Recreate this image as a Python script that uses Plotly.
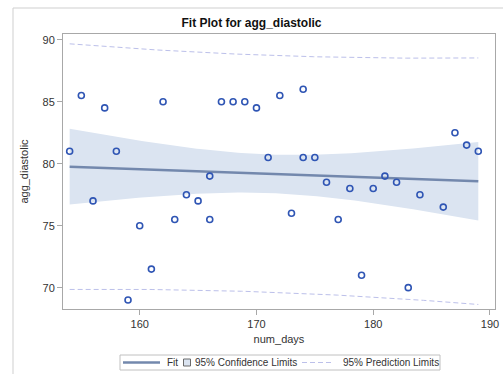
import numpy as np
import plotly.graph_objects as go

# Observations: number of days vs. aggregated diastolic pressure
num_days = [154, 155, 156, 157, 158, 159, 160, 161, 162, 163, 164, 165, 166, 166,
            167, 168, 169, 170, 171, 172, 173, 174, 174, 175, 176, 177, 178, 179,
            180, 181, 182, 183, 184, 186, 187, 188, 189]
agg_diastolic = [81, 85.5, 77, 84.5, 81, 69, 75, 71.5, 85, 75.5, 77.5, 77, 75.5, 79,
                 85, 85, 85, 84.5, 80.5, 85.5, 76, 86, 80.5, 80.5, 78.5, 75.5, 78, 71,
                 78, 79, 78.5, 70, 77.5, 76.5, 82.5, 81.5, 81]

x_ticks = [160, 170, 180, 190]
y_ticks = [70, 75, 80, 85, 90]
legend_labels = ["Fit", "95% Confidence Limits", "95% Prediction Limits"]

# Ordinary least squares fit with 95% confidence and prediction limits
x = np.array(num_days, dtype=float)
y = np.array(agg_diastolic, dtype=float)
n = len(x)
slope, intercept = np.polyfit(x, y, 1)
resid = y - (intercept + slope * x)
s = np.sqrt(np.sum(resid ** 2) / (n - 2))
t_crit = 2.0301  # t quantile, 0.975, 35 df
sxx = np.sum((x - x.mean()) ** 2)

grid = np.linspace(x.min(), x.max(), 120)
fit = intercept + slope * grid
se_mean = s * np.sqrt(1 / n + (grid - x.mean()) ** 2 / sxx)
se_pred = s * np.sqrt(1 + 1 / n + (grid - x.mean()) ** 2 / sxx)
cl_lo, cl_hi = fit - t_crit * se_mean, fit + t_crit * se_mean
pl_lo, pl_hi = fit - t_crit * se_pred, fit + t_crit * se_pred

BAND = "#dbe4f1"
FIT = "#7388ad"
PRED = "#bcc0ea"
MARK = "#2f55b4"
AXIS = "#a8a8a8"
FONT = "Liberation Sans, Arial, sans-serif"
DASH = "5px,3px"

W, H = 503, 374
ML, MR, MT, MB = 63, 8, 34, 65
PW, PH = W - ML - MR, H - MT - MB


def px(xp):
    """Horizontal pixel position -> paper coordinate."""
    return (xp - ML) / PW


def py(yp):
    """Vertical pixel position -> paper coordinate."""
    return (H - MB - yp) / PH


fig = go.Figure()

# confidence band
fig.add_trace(go.Scatter(x=grid, y=cl_lo, mode="lines", line=dict(width=0),
                         showlegend=False, hoverinfo="skip"))
fig.add_trace(go.Scatter(x=grid, y=cl_hi, mode="lines", line=dict(width=0),
                         fill="tonexty", fillcolor=BAND, showlegend=False,
                         hoverinfo="skip"))

# prediction limits
for band in (pl_hi, pl_lo):
    fig.add_trace(go.Scatter(x=grid, y=band, mode="lines",
                             line=dict(color=PRED, width=1, dash=DASH),
                             showlegend=False, hoverinfo="skip"))

# fitted line
fig.add_trace(go.Scatter(x=grid, y=fit, mode="lines",
                         line=dict(color=FIT, width=2.5), showlegend=False))

# observations
fig.add_trace(go.Scatter(x=num_days, y=agg_diastolic, mode="markers",
                         marker=dict(symbol="circle-open", size=6, color=MARK,
                                     line=dict(width=1.6, color=MARK)),
                         showlegend=False))

axis_common = dict(showline=True, linecolor=AXIS, linewidth=1, mirror=True,
                   ticks="outside", ticklen=5, tickcolor=AXIS, showgrid=False,
                   zeroline=False, tickfont=dict(size=11, color="#333333", family=FONT),
                   title_font=dict(size=11, color="#333333", family=FONT))

fig.update_xaxes(range=[153.43, 190.43], tickvals=x_ticks, title_text="num_days",
                 title_standoff=6, **axis_common)
fig.update_yaxes(range=[68.28, 90.46], tickvals=y_ticks, title_text="agg_diastolic",
                 title_standoff=11, **axis_common)

shapes = []
# outer graph border
shapes.append(dict(type="rect", xref="paper", yref="paper",
                   x0=px(13), x1=px(W + 20), y0=py(H + 20), y1=py(8),
                   line=dict(color="#cfcfcf", width=1), layer="below"))

# legend box and its symbols
ly = 362.5
shapes.append(dict(type="rect", xref="paper", yref="paper",
                   x0=px(120), x1=px(440), y0=py(370), y1=py(355),
                   line=dict(color="#c0c0c0", width=1), fillcolor="white"))
shapes.append(dict(type="line", xref="paper", yref="paper",
                   x0=px(123), x1=px(160), y0=py(ly), y1=py(ly),
                   line=dict(color=FIT, width=2.5)))
shapes.append(dict(type="rect", xref="paper", yref="paper",
                   x0=px(183.5), x1=px(190.5), y0=py(ly + 3.5), y1=py(ly - 3.5),
                   line=dict(color="#6b6b6b", width=1), fillcolor=BAND))
shapes.append(dict(type="line", xref="paper", yref="paper",
                   x0=px(302), x1=px(333), y0=py(ly), y1=py(ly),
                   line=dict(color=PRED, width=1, dash=DASH)))

annotations = []
for label, left in zip(legend_labels, [165, 193, 341]):
    annotations.append(dict(text=label, xref="paper", yref="paper",
                            x=px(left), y=py(ly), xanchor="left", yanchor="middle",
                            showarrow=False,
                            font=dict(size=10, color="#333333", family=FONT)))

fig.update_layout(
    width=W, height=H,
    margin=dict(l=ML, r=MR, t=MT, b=MB, autoexpand=False),
    paper_bgcolor="white", plot_bgcolor="white",
    title=dict(text="<b>Fit Plot for agg_diastolic</b>", x=0.5, xanchor="center",
               y=1 - 23 / H, yanchor="middle",
               font=dict(size=12, color="#111111", family=FONT)),
    shapes=shapes,
    annotations=annotations,
    showlegend=False,
)

fig.write_html("out.html")
